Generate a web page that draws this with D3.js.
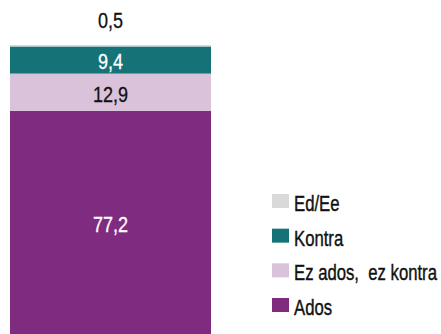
<!DOCTYPE html>
<html>
<head>
<meta charset="utf-8">
<script src="https://cdn.jsdelivr.net/npm/d3@7"></script>
<style>
  html, body { margin: 0; padding: 0; background: #fff; }
  svg { display: block; }
  text { font-family: "Liberation Sans", Arial, sans-serif; }
</style>
</head>
<body>
<svg id="chart" width="441" height="334"></svg>
<script>
// Stacked shares, bottom to top
const categories = ["Ados", "Ez ados,  ez kontra", "Kontra", "Ed/Ee"];
const values = [77.2, 12.9, 9.4, 0.5];
const labels = ["77,2", "12,9", "9,4", "0,5"];
const colors = ["#7e2b80", "#d9c2da", "#157378", "#d9d9d9"];
const labelColors = ["#ffffff", "#111111", "#ffffff", "#111111"];

// condensed look: squeeze glyphs horizontally
const SQUEEZE_NUM = 0.82;
const SQUEEZE_TXT = 0.76;

const svg = d3.select("#chart");

const y = d3.scaleLinear().domain([0, 100]).range([334, 45]);
const x = d3.scaleBand().domain(["total"]).range([10, 211]).padding(0);

// cumulative stack
let acc = 0;
const segs = values.map((v, i) => {
  const s = { cat: categories[i], v, y0: acc, y1: acc + v, i };
  acc += v;
  return s;
});

svg.append("g").selectAll("rect")
  .data(segs)
  .join("rect")
  .attr("x", x("total"))
  .attr("width", x.bandwidth())
  .attr("y", d => y(d.y1))
  .attr("height", d => y(d.y0) - y(d.y1))
  .attr("fill", d => colors[d.i]);

// value labels: inside the segment, or above the bar when too thin
const thin = d => (y(d.y0) - y(d.y1)) < 15;
svg.append("g").selectAll("g")
  .data(segs)
  .join("g")
  .attr("transform", d => {
    const cx = x("total") + x.bandwidth() / 2;
    const cy = thin(d) ? 20.5 : (y(d.y0) + y(d.y1)) / 2 + 1.5;
    return `translate(${cx},${cy}) scale(${SQUEEZE_NUM},1)`;
  })
  .append("text")
  .attr("dy", "0.36em")
  .attr("text-anchor", "middle")
  .attr("font-size", 22)
  .attr("fill", d => thin(d) ? "#111" : labelColors[d.i])
  .attr("stroke", d => thin(d) ? "#111" : labelColors[d.i])
  .attr("stroke-width", 0.3)
  .text(d => labels[d.i]);

// legend, top entry is the last stack layer
const legendOrder = d3.range(categories.length).reverse();
const ly = d3.scalePoint().domain(legendOrder).range([203, 307]);
const lg = svg.append("g").selectAll("g")
  .data(legendOrder)
  .join("g")
  .attr("transform", i => `translate(272,${ly(i)})`);
lg.append("rect")
  .attr("x", 0).attr("y", -9)
  .attr("width", 17).attr("height", 14)
  .attr("fill", i => colors[i]);
lg.append("g")
  .attr("transform", `translate(22,0) scale(${SQUEEZE_TXT},1)`)
  .append("text")
  .attr("dy", "0.36em")
  .attr("font-size", 22)
  .attr("fill", "#111")
  .attr("stroke", "#111")
  .attr("stroke-width", 0.4)
  .style("white-space", "pre")
  .text(i => categories[i]);
</script>
</body>
</html>
